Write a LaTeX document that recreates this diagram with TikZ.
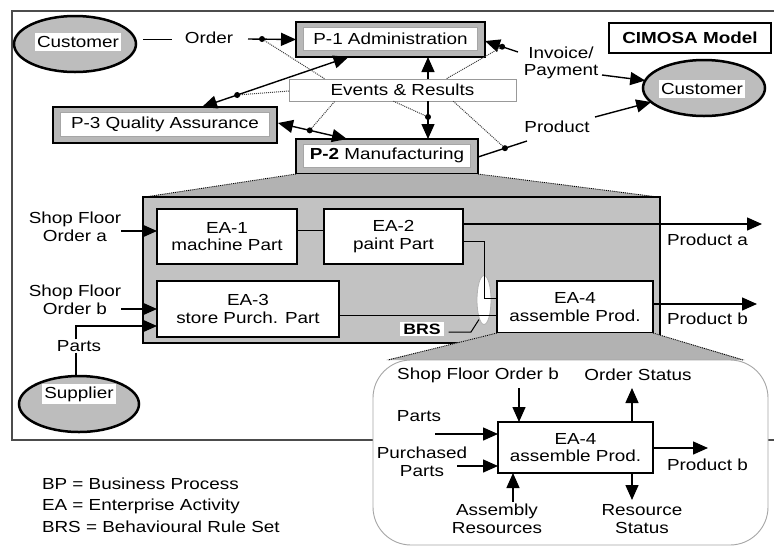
\documentclass[tikz,border=0pt]{standalone}
\usepackage{fontspec}
\setmainfont{Liberation Sans}[FakeStretch=1.18]
\usetikzlibrary{arrows.meta,calc,shapes.geometric}
\definecolor{procgray}{gray}{0.72}
\definecolor{boxgray}{gray}{0.76}
\definecolor{trapgray}{gray}{0.70}
\definecolor{ellgray}{gray}{0.74}
\definecolor{framecol}{gray}{0.3}
\begin{document}
\begin{tikzpicture}[x=1pt,y=-1pt,
  every node/.style={font=\fontsize{16}{17.5}\selectfont, inner sep=0pt, outer sep=0pt},
  proc/.style={draw=black, line width=2.8pt, fill=procgray, rectangle},
  proctext/.style={fill=white, draw=gray!70, line width=0.5pt, rectangle},
  eabox/.style={draw=black, line width=1.8pt, fill=white, rectangle, align=center},
  arr/.style={-{Triangle[length=15pt,width=13pt]}, line width=1.4pt},
  darr/.style={{Triangle[length=15pt,width=13pt]}-{Triangle[length=15pt,width=13pt]}, line width=1.4pt},
  thinl/.style={line width=1pt},
  evdot/.style={densely dotted, line width=1pt, black!75},
  dotn/.style={circle, fill=black, minimum size=6pt, inner sep=0pt},
  lbl/.style={align=center},
  ell/.style={ellipse, draw=black, line width=2.5pt, fill=ellgray},
  elltext/.style={fill=white, inner xsep=2pt, inner ysep=3pt}
]
\useasboundingbox (0,0) rectangle (774,547);
\fill[white] (0,0) rectangle (774,547);

% outer frame
\draw[line width=1.3pt, framecol] (774,11) -- (12,11) -- (12,440) -- (774,440);

% ---------- top level processes ----------
\node[ell, minimum width=122pt, minimum height=56pt] (custL) at (75,44) {};
\node[elltext] (custLt) at (78,42) {Customer};
\node[ell, minimum width=122pt, minimum height=56pt] (custR) at (704,88) {};
\node[elltext] (custRt) at (702,89) {Customer};

\node[proc, minimum width=189pt, minimum height=35pt] (p1) at (390.5,39.5) {};
\node[proctext, minimum width=174pt, minimum height=23pt] (p1t) at (390.5,38.5) {P-1 Administration};
\node[proc, minimum width=224pt, minimum height=36pt] (p3) at (165,125) {};
\node[proctext, minimum width=209pt, minimum height=24pt] (p3t) at (165,124) {P-3 Quality Assurance};
\node[proc, minimum width=182pt, minimum height=35pt] (p2) at (387,156.5) {};
\node[proctext, minimum width=167pt, minimum height=23pt] (p2t) at (387,155.5) {\bfseries P-2\mdseries\ Manufacturing};

\node[draw=gray!80, line width=0.7pt, fill=white, minimum width=227pt, minimum height=22pt] (ev) at (402.5,90) {Events \& Results};
\node[draw=black, line width=1.3pt, fill=white, minimum width=162pt, minimum height=30pt] (cim) at (690,38) {\bfseries CIMOSA Model};

% labels
\node[lbl] (order) at (209,38) {Order};
\node[lbl, font=\fontsize{16}{17}\selectfont] (inv) at (561,63) {Invoice/\\Payment};
\node[lbl] (prod) at (557,127) {Product};

% Order line
\coordinate (o1) at (143,39);
\draw[thinl] (o1) -- ($(order.west |- o1)+(-13,0)$);
\coordinate (o2) at (248,39);
\draw[arr] (o2) -- (p1.west);
\node[dotn] (d1) at (262,39) {};

% P-3 <-> P-1
\draw[darr] ($(p3.north)+(37,0)$) -- node[pos=0.24, dotn] (d2) {} ($(p1.south)+(-42,0)$);
% P-3 <-> P-2
\draw[darr] ($(p3.east)+(1,-2)$) -- node[pos=0.46, dotn] (d3) {} ($(p2.north west)+(51,0)$);
% P-1 <-> P-2 through events
\draw[arr] (ev.north -| 428,0) -- (p1.south -| 428,0);
\draw[arr] (ev.south -| 428,0) -- node[pos=0.42, dotn] (d4) {} (p2.north -| 428,0);

% Invoice / Payment
\coordinate (i1) at (518,52);
\draw[arr] (i1) -- node[pos=0.48, dotn] (d5) {} ($(p1.east)+(0,1.5)$);
\coordinate (i2) at (602,75);
\draw[arr] (i2) -- (custR);

% Product
\coordinate (pr1) at (527,141);
\draw[line width=1.4pt] (p2.east |- 0,157) -- node[pos=0.55, dotn] (d6) {} (pr1);
\coordinate (pr2) at (595,117);
\draw[arr] (pr2) -- (custR);

% dotted links to Events & Results
\draw[evdot] (d1) -- ($(ev.north west)+(36,0)$);
\draw[evdot] (d2) -- ($(ev.west)+(0,1)$);
\draw[evdot] (d3) -- ($(ev.south west)+(46,0)$);
\draw[evdot] (d4) -- ($(ev.south west)+(104,0)$);
\draw[evdot] (d5) -- ($(ev.north west)+(157,0)$);
\draw[evdot] (d6) -- ($(ev.south west)+(164,0)$);

% ---------- P-2 decomposition ----------
\fill[trapgray] (p2.south west) -- (p2.south east) -- (660,197) -- (143,197) -- cycle;
\draw[densely dotted, line width=0.9pt] (p2.south west) -- (145,197);
\draw[densely dotted, line width=0.9pt] (p2.south east) -- (658,197);
\node[draw=black, line width=2.8pt, fill=boxgray, minimum width=517pt, minimum height=146pt] (big) at (401.5,270) {};

\node[eabox, minimum width=140pt, minimum height=55pt] (ea1) at (227,236.5) {EA-1\\machine Part};
\node[eabox, minimum width=139pt, minimum height=55pt] (ea2) at (393.5,236.5) {EA-2\\paint Part};
\node[eabox, minimum width=182pt, minimum height=56pt] (ea3) at (248,309) {EA-3\\store Purch. Part};
\node[eabox, minimum width=156pt, minimum height=52pt] (ea4) at (575,307) {EA-4\\assemble Prod.};

% BRS ellipse
\node[ellipse, draw=gray!60, line width=0.8pt, fill=white, minimum width=14pt, minimum height=49pt] (brs) at (484,300) {};

\draw[thinl] ([yshift=6.5pt]ea1.east) -- ([yshift=6.5pt]ea2.west);
\coordinate (pa) at (762,224);
\draw[arr] ([yshift=12.5pt]ea2.east) -- (pa);
\coordinate (ea4in) at ([yshift=9pt]ea4.west);
\draw[thinl] ([yshift=-4.5pt]ea2.east) -| (brs.center |- ea4in) -- (ea4in);
\draw[thinl] ([yshift=-6pt]ea3.east) -- ([yshift=-8pt]ea4.west);
\coordinate (pb) at (757,304);
\draw[arr] ([yshift=3pt]ea4.east) -- (pb);

\node[fill=white, inner xsep=3pt, inner ysep=2pt, font=\fontsize{15}{16}\selectfont\bfseries] (brsl) at (422,329) {BRS};
\coordinate (b1) at (471,332);
\draw[thinl] ($(brsl.east)+(5,3)$) -- (b1) -- ($(brs.south)+(-5,-5)$);

\node[anchor=west] (proda) at (667,240) {Product a};
\node[anchor=west] (prodb) at (667,319) {Product b};

% inputs left
\node[lbl] (sfa) at (75,227) {Shop Floor\\Order a};
\node[lbl] (sfb) at (75,300) {Shop Floor\\Order b};
\node[lbl] (parts) at (79,346) {Parts};
\draw[arr] (sfa.east |- 0,231) -- ([yshift=5.5pt]ea1.west);
\draw[arr] (sfb.east |- 0,309) -- (ea3.west);
\draw[arr] ($(parts.north)+(-3,-1)$) |- ([yshift=-17pt]ea3.west);

\node[ell, minimum width=120pt, minimum height=56pt] (sup) at (79,404) {};
\node[elltext] (supt) at (79,394) {Supplier};
\draw[line width=1.4pt] ($(parts.south)+(-3,1)$) -- ($(sup.north)+(-3,0)$);

% legend
\node[anchor=west, align=left, font=\fontsize{16}{21.7}\selectfont] (legend) at (42,505) {BP = Business Process\\EA = Enterprise Activity\\BRS = Behavioural Rule Set};

% ---------- EA-4 zoom ----------
\fill[trapgray] (ea4.south west) -- (ea4.south east) -- (745,360) -- (386,360) -- cycle;
\draw[densely dotted, line width=0.9pt] (ea4.south west) -- (388,360);
\draw[densely dotted, line width=0.9pt] (ea4.south east) -- (743,360);
\node[draw=gray!70, line width=0.9pt, fill=white, rounded corners=38pt, minimum width=395pt, minimum height=185pt] (zoom) at (570.5,452.5) {};

\node[eabox, line width=1.6pt, minimum width=155pt, minimum height=51pt] (ea4z) at (575.5,447.5) {EA-4\\assemble Prod.};
\node (sfoz) at (478,375) {Shop Floor Order b};
\node (osz) at (638,375) {Order Status};
\node (partsz) at (419,416) {Parts};
\node[lbl] (ppz) at (422,462) {Purchased\\Parts};
\node[lbl] (arz) at (497,519) {Assembly\\Resources};
\node[lbl] (rsz) at (642,519) {Resource\\Status};
\node[anchor=west] (pbz) at (667,465) {Product b};

\coordinate (z1) at (519,388);
\draw[arr] (z1) -- (ea4z.north -| z1);
\coordinate (z2) at (632,388);
\draw[arr] (ea4z.north -| z2) -- (z2);
\coordinate (z3) at (435,434);
\draw[arr] (z3) -- (ea4z.west |- z3);
\coordinate (z4) at (457,466);
\draw[arr] (z4) -- (ea4z.west |- z4);
\coordinate (z5) at (513,502);
\draw[arr] (z5) -- (ea4z.south -| z5);
\coordinate (z6) at (632,500);
\draw[arr] (ea4z.south -| z6) -- (z6);
\coordinate (z7) at (708,448);
\draw[arr] (ea4z.east |- z7) -- (z7);
\end{tikzpicture}
\end{document}
